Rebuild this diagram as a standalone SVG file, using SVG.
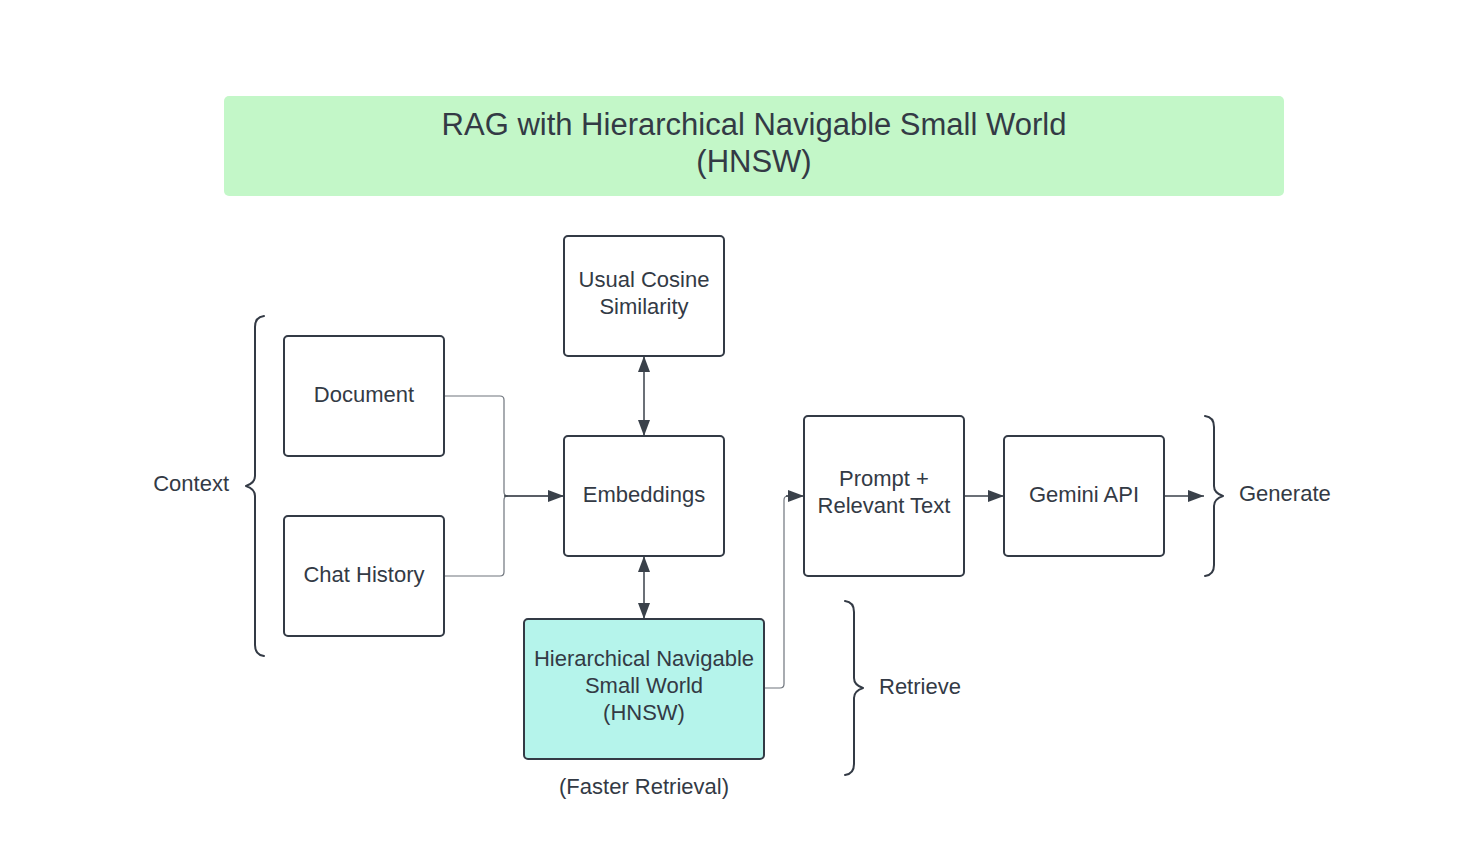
<svg xmlns="http://www.w3.org/2000/svg" width="1464" height="852" viewBox="0 0 1464 852">
<defs>
<style>
.box{fill:#ffffff;stroke:#333a45;stroke-width:2}
.t{font-family:"Liberation Sans",Arial,sans-serif;font-size:22px;fill:#333a45;text-anchor:middle}
.lbl{font-family:"Liberation Sans",Arial,sans-serif;font-size:22px;fill:#333a45}
.title{font-family:"Liberation Sans",Arial,sans-serif;font-size:31px;fill:#333a45;text-anchor:middle}
.c{fill:none;stroke:#6f757d;stroke-width:1.2}
.cd{fill:none;stroke:#3a414a;stroke-width:1.5}
.br{fill:none;stroke:#333a45;stroke-width:2;stroke-linecap:round;stroke-linejoin:round}
</style>
<marker id="ah" viewBox="0 0 16 12" refX="16" refY="6" markerWidth="16" markerHeight="12" markerUnits="userSpaceOnUse" orient="auto-start-reverse">
<path d="M0,0 L16,6 L0,12 Z" fill="#3a414a"/>
</marker>
</defs>
<rect width="1464" height="852" fill="#ffffff"/>

<g id="title">
<rect x="224" y="96" width="1060" height="100" rx="5" fill="#c3f7c8"/>
<text class="title" x="754" y="135">RAG with Hierarchical Navigable Small World</text>
<text class="title" x="754" y="172">(HNSW)</text>
</g>

<g id="connectors">
<path class="c" d="M444,396 H500 Q504,396 504,400 V492 Q504,496 508,496 H564"/>
<path class="c" d="M444,576 H500 Q504,576 504,572 V500 Q504,496 508,496"/>
<path class="cd" d="M504,496 H564" marker-end="url(#ah)"/>
<path class="cd" d="M644,356 V436" marker-start="url(#ah)" marker-end="url(#ah)"/>
<path class="cd" d="M644,556 V619" marker-start="url(#ah)" marker-end="url(#ah)"/>
<path class="c" d="M764,688 H780 Q784,688 784,684 V500 Q784,496 788,496 H790"/>
<path class="cd" d="M786,496 H804" marker-end="url(#ah)"/>
<path class="cd" d="M964,496 H1004" marker-end="url(#ah)"/>
<path class="cd" d="M1164,496 H1204" marker-end="url(#ah)"/>
</g>

<g id="cosine">
<rect class="box" x="564" y="236" width="160" height="120" rx="4"/>
<text class="t" x="644" y="287">Usual Cosine</text>
<text class="t" x="644" y="314">Similarity</text>
</g>
<g id="document">
<rect class="box" x="284" y="336" width="160" height="120" rx="4"/>
<text class="t" x="364" y="402">Document</text>
</g>
<g id="chat-history">
<rect class="box" x="284" y="516" width="160" height="120" rx="4"/>
<text class="t" x="364" y="582">Chat History</text>
</g>
<g id="embeddings">
<rect class="box" x="564" y="436" width="160" height="120" rx="4"/>
<text class="t" x="644" y="502">Embeddings</text>
</g>
<g id="prompt">
<rect class="box" x="804" y="416" width="160" height="160" rx="4"/>
<text class="t" x="884" y="486">Prompt +</text>
<text class="t" x="884" y="513">Relevant Text</text>
</g>
<g id="gemini">
<rect class="box" x="1004" y="436" width="160" height="120" rx="4"/>
<text class="t" x="1084" y="502">Gemini API</text>
</g>
<g id="hnsw">
<rect class="box" x="524" y="619" width="240" height="140" rx="4" style="fill:#b5f4eb"/>
<text class="t" x="644" y="666">Hierarchical Navigable</text>
<text class="t" x="644" y="693">Small World</text>
<text class="t" x="644" y="720">(HNSW)</text>
</g>
<g id="faster-retrieval">
<text class="t" x="644" y="794">(Faster Retrieval)</text>
</g>

<g id="context">
<path class="br" d="M264,316 Q255,317 255,327 V476 Q255,483 246,486 Q255,489 255,496 V645 Q255,655 264,656"/>
<text class="lbl" x="229" y="491" text-anchor="end">Context</text>
</g>
<g id="generate">
<path class="br" d="M1205,416 Q1214,417 1214,427 V486 Q1214,493 1223,496 Q1214,499 1214,506 V565 Q1214,575 1205,576"/>
<text class="lbl" x="1239" y="501">Generate</text>
</g>
<g id="retrieve">
<path class="br" d="M845,601 Q854,602 854,612 V678 Q854,685 863,688 Q854,691 854,698 V764 Q854,774 845,775"/>
<text class="lbl" x="879" y="694">Retrieve</text>
</g>
</svg>
